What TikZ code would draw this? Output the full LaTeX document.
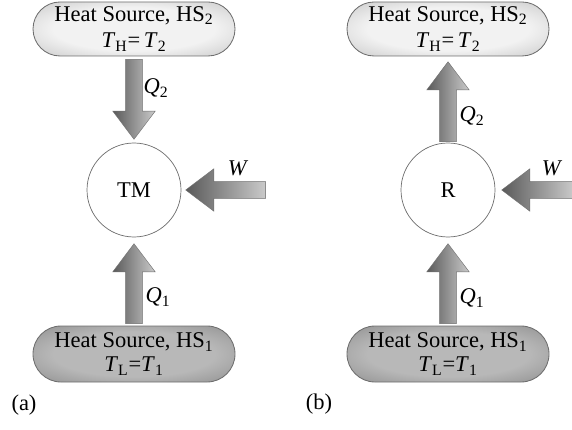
\documentclass[tikz,border=0pt]{standalone}
\usepackage{fontspec}
\setmainfont{Liberation Serif}
\usepackage{tikz}
\usetikzlibrary{shapes.misc,shapes.arrows}
\definecolor{hotin}{HTML}{F2F2F2}
\definecolor{hotout}{HTML}{8E8E8E}
\definecolor{coldin}{HTML}{B8B8B8}
\definecolor{coldout}{HTML}{555555}
\definecolor{flowdark}{HTML}{5A5A5A}
\definecolor{flowlight}{HTML}{CACACA}
\definecolor{rim}{HTML}{6E6E6E}
\pgfdeclareradialshading{hotglow}{\pgfpoint{0bp}{0bp}}{color(0bp)=(hotin); color(20bp)=(hotin); color(60bp)=(hotout)}
\pgfdeclareradialshading{coldglow}{\pgfpoint{0bp}{0bp}}{color(0bp)=(coldin); color(20bp)=(coldin); color(60bp)=(coldout)}
\tikzset{hot/.style={draw=rim,line width=0.6pt,shading=hotglow,rounded rectangle,minimum width=5.05cm,minimum height=1.35cm,align=center,inner sep=0pt}}
\tikzset{cold/.style={draw=rim,line width=0.6pt,shading=coldglow,rounded rectangle,minimum width=5.05cm,minimum height=1.4cm,align=center,inner sep=0pt}}
\tikzset{engine/.style={draw=rim,line width=0.5pt,fill=white,circle,minimum size=2.35cm,inner sep=0pt}}
\tikzset{flow/.style={draw=rim,line width=0.3pt,left color=flowdark,right color=flowlight,single arrow,single arrow head extend=0.32cm,single arrow tip angle=74,single arrow head indent=0pt,inner xsep=0pt,inner ysep=0.205cm,minimum height=2cm}}
\tikzset{lbl/.style={inner sep=0pt}}

\begin{document}
\begin{tikzpicture}[every node/.append style={font=\fontsize{16}{18}\selectfont}]
    \useasboundingbox (0,0) rectangle (14.3,-10.75);

    % (a) heat engine
    \node[hot] (hsa2) at (3.35,-0.725)
    {Heat Source, HS\textsubscript{2}\\[1pt]\textit{T}\textsubscript{H}=\,\textit{T}\textsubscript{2}};
    \node[engine] (tma) at (3.35,-4.75) {TM};
    \node[cold] (hsa1) at (3.35,-8.85)
    {Heat Source, HS\textsubscript{1}\\[-1pt]\textit{T}\textsubscript{L}=\textit{T}\textsubscript{1}};

    \node[flow,rotate=-90,anchor=tip] (q2a) at ([yshift=0.075cm]tma.north) {};
    \node[flow,rotate=90,anchor=tip] (q1a) at ([yshift=-0.15cm]tma.south) {};
    \node[flow,rotate=180,anchor=tip] (wa) at ([xshift=0.1cm]tma.east) {};

    \node[lbl] (lq2a) at (3.9,-2.2) {\textit{Q}\textsubscript{2}};
    \node[lbl] (lq1a) at (3.95,-7.425) {\textit{Q}\textsubscript{1}};
    \node[lbl] (lwa) at (5.95,-4.2) {\textit{W}};
    \node[lbl] (capa) at (0.6,-10.125) {(a)};

    % (b) refrigerator
    \node[hot] (hsb2) at (11.2,-0.725)
    {Heat Source, HS\textsubscript{2}\\[1pt]\textit{T}\textsubscript{H}=\,\textit{T}\textsubscript{2}};
    \node[engine] (rb) at (11.2,-4.75) {R};
    \node[cold] (hsb1) at (11.2,-8.85)
    {Heat Source, HS\textsubscript{1}\\[-1pt]\textit{T}\textsubscript{L}=\textit{T}\textsubscript{1}};

    \node[flow,rotate=90,anchor=tip] (q2b) at ([yshift=-0.125cm]hsb2.south) {};
    \node[flow,rotate=90,anchor=tip] (q1b) at ([yshift=-0.15cm]rb.south) {};
    \node[flow,rotate=180,anchor=tip,minimum height=1.8cm] (wb) at ([xshift=0.15cm]rb.east) {};

    \node[lbl] (lq2b) at (11.8,-2.9) {\textit{Q}\textsubscript{2}};
    \node[lbl] (lq1b) at (11.8,-7.45) {\textit{Q}\textsubscript{1}};
    \node[lbl] (lwb) at (13.8,-4.2) {\textit{W}};
    \node[lbl] (capb) at (7.975,-10.1) {(b)};

  \end{tikzpicture}
\end{document}
